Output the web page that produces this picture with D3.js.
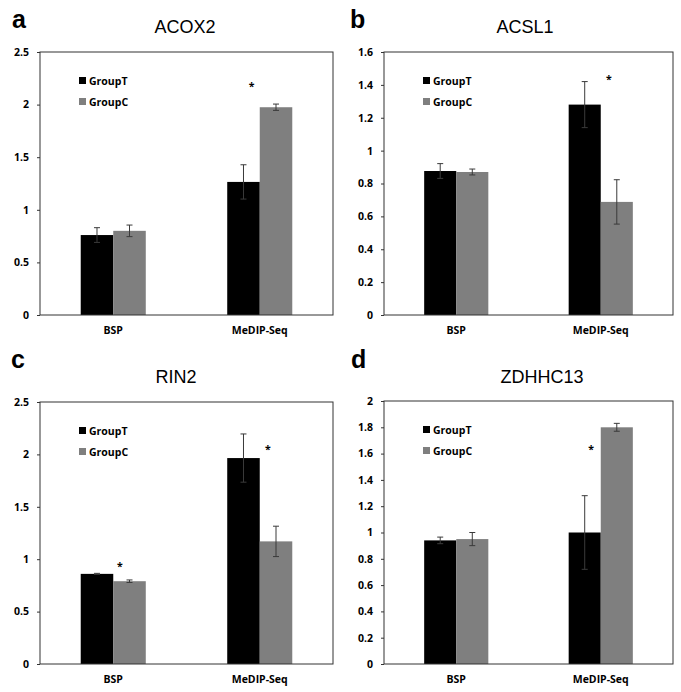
<!DOCTYPE html>
<html>
<head>
<meta charset="utf-8">
<script src="https://cdn.jsdelivr.net/npm/d3@7"></script>
<style>
  body { margin: 0; background: #fff; }
  svg { display: block; }
  .tick text { font-family: "Open Sans", sans-serif; font-weight: 700; font-size: 10.5px; fill: #000; }
</style>
</head>
<body>
<div id="chart"></div>
<script>
var width = 681,
    height = 692;

// data
var categories = ["BSP", "MeDIP-Seq"];
var series = ["GroupT", "GroupC"];
var genes = ["ACOX2", "ACSL1", "RIN2", "ZDHHC13"];
var letters = ["a", "b", "c", "d"];

var groupT_mean = [[0.76, 1.265], [0.876, 1.28], [0.86, 1.965], [0.94, 1.0]];
var groupT_err  = [[0.07, 0.163], [0.045, 0.14], [0.005, 0.23], [0.025, 0.28]];
var groupC_mean = [[0.80, 1.975], [0.87, 0.688], [0.79, 1.17], [0.95, 1.80]];
var groupC_err  = [[0.055, 0.03], [0.018, 0.135], [0.012, 0.145], [0.05, 0.03]];

var yTicks = [
  [0, 0.5, 1, 1.5, 2, 2.5],
  [0, 0.2, 0.4, 0.6, 0.8, 1, 1.2, 1.4, 1.6],
  [0, 0.5, 1, 1.5, 2, 2.5],
  [0, 0.2, 0.4, 0.6, 0.8, 1, 1.2, 1.4, 1.6, 1.8, 2]
];

// significance stars: panel, category, value, shift (in bar widths from category centre)
var starPanel    = [0, 1, 2, 2, 3];
var starCategory = ["MeDIP-Seq", "MeDIP-Seq", "BSP", "MeDIP-Seq", "MeDIP-Seq"];
var starValue    = [2.19, 1.44, 0.945, 2.06, 1.64];
var starShift    = [-0.25, 0.25, 0.2, 0.25, -0.3];

// layout of the four panels
var panels = [
  {left: 40,  top: 52,  right: 333, bottom: 315, titleX: 185, titleY: 33,  letterX: 12,  letterY: 28},
  {left: 384, top: 52,  right: 673, bottom: 315, titleX: 525, titleY: 33,  letterX: 350, letterY: 28},
  {left: 40,  top: 402, right: 333, bottom: 664, titleX: 176, titleY: 383, letterX: 11,  letterY: 368},
  {left: 384, top: 401, right: 673, bottom: 664, titleX: 542, titleY: 383, letterX: 351, letterY: 368}
];

var colors = {GroupT: "#000000", GroupC: "#7f7f7f"};
var errColor = "#3a3a3a";
var labelFont = "'Open Sans', sans-serif";

var svg = d3.select("#chart")
  .append("svg")
  .attr("width", width)
  .attr("height", height);

panels.forEach(function(p, i) {
  var w = p.right - p.left,
      h = p.bottom - p.top;

  var g = svg.append("g")
    .attr("transform", "translate(" + p.left + "," + p.top + ")");

  var x0 = d3.scaleBand()
    .domain(categories)
    .range([0, w])
    .paddingInner(0.556)
    .paddingOuter(0.278);

  var x1 = d3.scaleBand()
    .domain(series)
    .range([0, x0.bandwidth()]);

  var y = d3.scaleLinear()
    .domain([0, d3.max(yTicks[i])])
    .range([h, 0]);

  var rows = [];
  categories.forEach(function(c, ci) {
    rows.push({cat: c, s: "GroupT", v: groupT_mean[i][ci], e: groupT_err[i][ci]});
    rows.push({cat: c, s: "GroupC", v: groupC_mean[i][ci], e: groupC_err[i][ci]});
  });

  // bars
  g.selectAll(".bar")
    .data(rows)
    .enter().append("rect")
    .attr("x", function(d) { return x0(d.cat) + x1(d.s); })
    .attr("y", function(d) { return y(d.v); })
    .attr("width", x1.bandwidth())
    .attr("height", function(d) { return h - y(d.v); })
    .style("fill", function(d) { return colors[d.s]; });

  // error bars
  var eb = g.selectAll(".err")
    .data(rows)
    .enter().append("g")
    .attr("transform", function(d) {
      return "translate(" + (x0(d.cat) + x1(d.s) + x1.bandwidth() / 2) + ",0)";
    })
    .style("stroke", errColor)
    .style("stroke-width", "1px");
  eb.append("line")
    .attr("y1", function(d) { return y(d.v + d.e); })
    .attr("y2", function(d) { return y(d.v - d.e); });
  eb.append("line")
    .attr("x1", -3).attr("x2", 3)
    .attr("y1", function(d) { return y(d.v + d.e); })
    .attr("y2", function(d) { return y(d.v + d.e); });
  eb.append("line")
    .attr("x1", -3).attr("x2", 3)
    .attr("y1", function(d) { return y(d.v - d.e); })
    .attr("y2", function(d) { return y(d.v - d.e); });

  // y axis
  var yAxis = d3.axisLeft(y)
    .tickValues(yTicks[i])
    .tickSizeInner(3)
    .tickSizeOuter(0)
    .tickPadding(8)
    .tickFormat(d3.format("~g"));
  var ya = g.append("g").call(yAxis);
  ya.select(".domain").remove();
  ya.selectAll(".tick line").style("stroke", "#333");

  // x axis
  var xAxis = d3.axisBottom(x0)
    .tickSize(0)
    .tickPadding(12);
  var xa = g.append("g")
    .attr("transform", "translate(0," + h + ")")
    .call(xAxis);
  xa.select(".domain").remove();

  // frame
  g.append("rect")
    .attr("x", 0).attr("y", 0)
    .attr("width", w).attr("height", h)
    .style("fill", "none")
    .style("stroke", "#333")
    .style("stroke-width", "1px");

  // legend
  var lg = g.append("g")
    .attr("transform", "translate(39,25)");
  series.forEach(function(s, si) {
    lg.append("rect")
      .attr("x", 0).attr("y", si * 21)
      .attr("width", 7).attr("height", 7)
      .style("fill", colors[s]);
    lg.append("text")
      .attr("x", 10).attr("y", si * 21 + 7.5)
      .style("font-family", labelFont)
      .style("font-weight", "700")
      .style("font-size", "10.5px")
      .style("fill", "#000")
      .text(s);
  });

  // stars
  starPanel.forEach(function(sp, k) {
    if (sp !== i) return;
    g.append("text")
      .attr("x", x0(starCategory[k]) + x0.bandwidth() / 2 + starShift[k] * x1.bandwidth())
      .attr("y", y(starValue[k]) + 5)
      .attr("text-anchor", "middle")
      .style("font-family", labelFont)
      .style("font-weight", "700")
      .style("font-size", "10.5px")
      .style("fill", "#000")
      .text("*");
  });

  // title and panel letter
  svg.append("text")
    .attr("x", p.titleX)
    .attr("y", p.titleY)
    .attr("text-anchor", "middle")
    .style("font-family", "'Liberation Sans', Arial, sans-serif")
    .style("font-size", "18px")
    .text(genes[i]);

  svg.append("text")
    .attr("x", p.letterX)
    .attr("y", p.letterY)
    .style("font-family", "'Liberation Sans', Arial, sans-serif")
    .style("font-weight", "bold")
    .style("font-size", "25px")
    .text(letters[i]);
});
</script>
</body>
</html>
